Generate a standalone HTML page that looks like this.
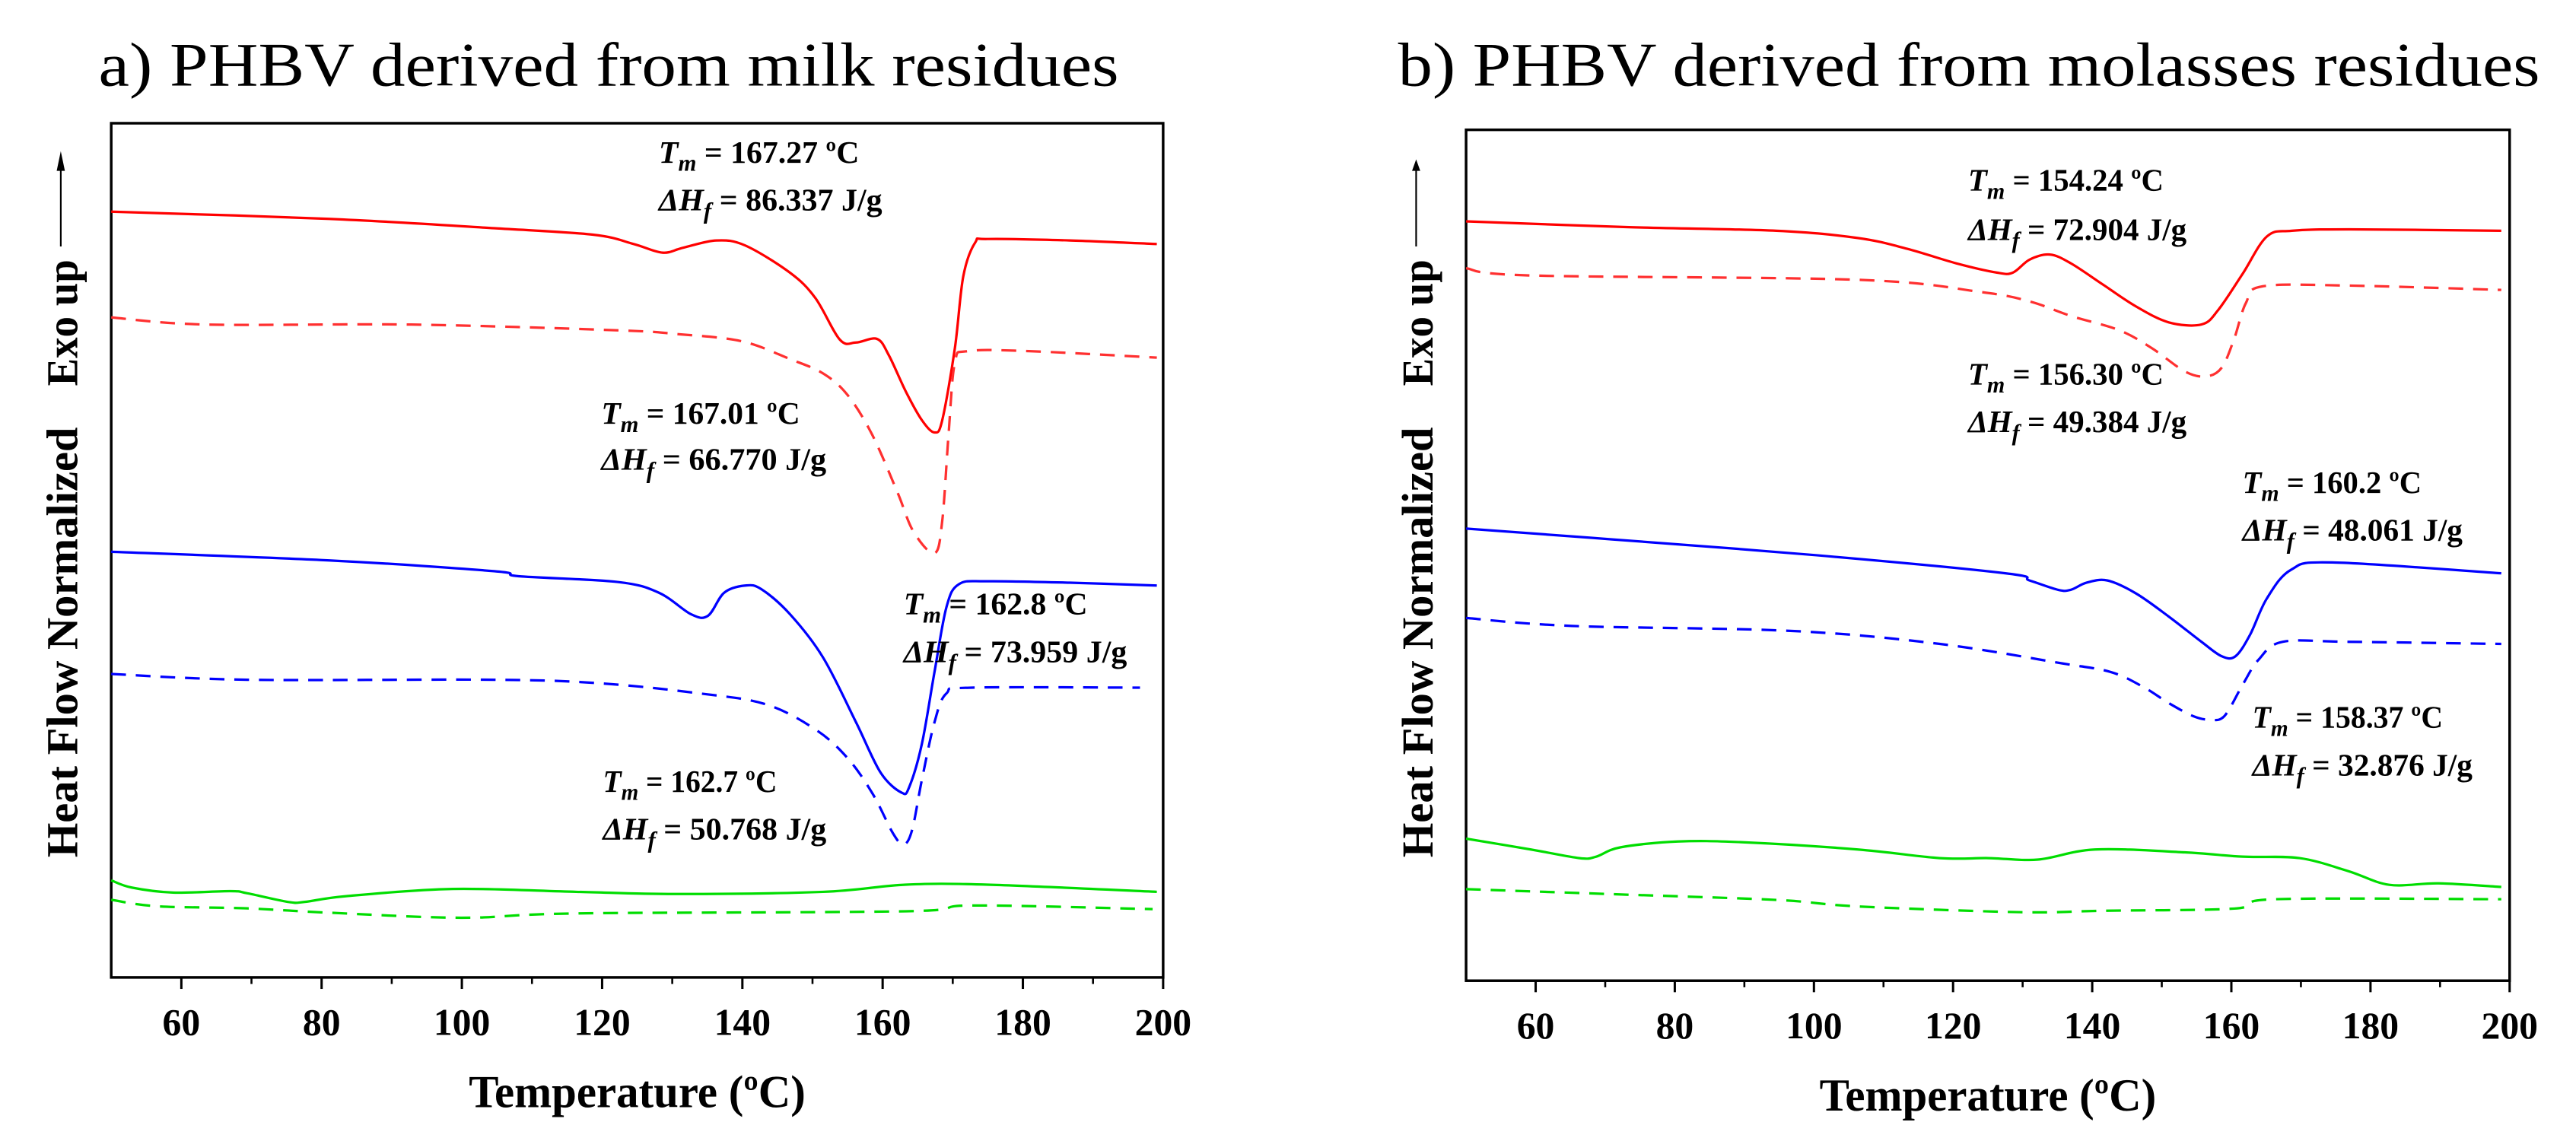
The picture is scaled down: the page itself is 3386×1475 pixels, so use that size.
<!DOCTYPE html>
<html><head><meta charset="utf-8">
<style>
html,body{margin:0;padding:0;background:#fff;}
svg{display:block;}
text{font-family:"Liberation Serif",serif;}
</style></head>
<body>
<svg id="chart" width="3386" height="1475" viewBox="0 0 1568 683" xmlns="http://www.w3.org/2000/svg">
  <rect x="0" y="0" width="1568" height="683" fill="#fff"/>
  <g id="panelA"></g>
  <g id="panelB"></g>
</svg>
<script>
// ---------- DATA: panel a (milk residues) ----------
const xTicks = [60, 80, 100, 120, 140, 160, 180, 200];
const xMinorTicks = [70, 90, 110, 130, 150, 170, 190];

const aRedSolidT = [50,81.1,104.6,118.7,124.5,128.6,131.6,136.3,140.4,146.8,150.4,153.9,156.2,159.2,160.9,163.3,165.6,167.4,168.5,170.3,171.5,173.2,175.0,186.7,199.1];
const aRedSolidV = [1065,1055,1042,1033,1020,1008,1015,1025,1018,980,945,887,883,888,865,815,775,758,775,875,975,1022,1027,1025,1020];
const aRedDashT = [50,63.5,92.8,122.2,130.4,139.8,146.8,151.5,155.0,158.5,162.1,164.4,167.4,168.5,169.4,170.3,172.1,180.9,199.1];
const aRedDashV = [918,908,908,900,895,885,860,840,810,755,675,620,590,635,755,855,871,871,862];
const aBlueSolidT = [50,81.1,104.6,108.1,122.2,128.1,132.7,135.1,137.4,140.4,142.7,146.8,151.5,156.2,159.7,162.7,163.8,165.6,167.4,169.1,170.9,175.0,186.7,199.1];
const aBlueSolidV = [592,580,565,558,550,535,505,503,535,545,540,505,445,355,285,257,265,325,425,515,547,551,549,545];
const aBlueDashT = [50,69.4,104.6,119.8,133.9,143.3,150.4,155.0,158.6,161.5,163.0,164.2,165.6,167.4,169.1,172.7,196.7];
const aBlueDashV = [422,414,414,409,395,380,345,305,255,200,185,205,275,355,395,403,403];
const aGreenSolidT = [50,52.9,58.8,67.0,69.4,75.2,77.6,83.5,98.7,116.3,130.4,151.5,163.3,175.0,199.1];
const aGreenSolidV = [135,125,118,120,117,105,105,113,123,119,116,119,129,129,119];
const aGreenDashT = [50,56.5,69.4,81.1,99.9,116.3,163.3,172.7,198.5];
const aGreenDashV = [108,99,96,90,83,89,92,100,95];

// ---------- DATA: panel b (molasses residues) ----------
const bRedSolidT = [50,73.4,94.6,106.3,113.4,120.4,126.3,128.6,131.0,133.9,136.9,141.6,146.3,151.0,155.7,158.1,161.6,165.1,168.7,176.9,198.8];
const bRedSolidV = [1053,1045,1040,1030,1015,995,982,982,1000,1007,995,965,935,913,910,930,980,1032,1040,1042,1040];
const bRedDashT = [50,59.3,106.3,124.0,131.0,136.9,143.9,148.6,153.3,156.3,158.6,160.4,162.1,164.5,176.8,198.8];
const bRedDashV = [988,978,972,955,942,922,902,877,845,838,850,890,940,963,964,958];
const bBlueSolidT = [50,71.0,100.4,127.5,131.0,135.1,136.9,139.2,142.2,146.3,151.0,155.7,158.6,160.6,162.7,165.1,168.6,174.5,198.8];
const bBlueSolidV = [627,612,590,565,555,542,542,552,555,537,505,470,450,450,480,530,570,580,565];
const bBlueDashT = [50,65.2,96.9,118.1,135.7,142.7,147.4,151.0,154.5,156.9,159.0,161.6,163.9,167.4,176.8,198.8];
const bBlueDashV = [503,492,485,467,440,428,407,385,367,362,367,410,445,470,470,467];
const bGreenSolidT = [50,59.3,66.3,68.7,72.2,80.4,89.8,106.3,118.1,125.1,132.2,140.4,153.3,161.6,169.8,176.8,182.7,189.8,198.8];
const bGreenSolidV = [197,182,170,172,185,193,192,182,170,170,168,182,178,172,170,152,133,135,130];
const bGreenDashT = [50,71.0,94.6,106.3,129.8,141.6,160.4,166.3,198.8];
const bGreenDashV = [127,120,112,103,95,97,100,113,113];

const NS = "http://www.w3.org/2000/svg";
function mk(tag, attrs, parent) {
  const e = document.createElementNS(NS, tag);
  for (const k in attrs) e.setAttribute(k, attrs[k]);
  parent.appendChild(e);
  return e;
}

function smoothPath(pts) {
  let d = 'M' + pts[0][0].toFixed(2) + ',' + pts[0][1].toFixed(2);
  for (let i = 0; i < pts.length - 1; i++) {
    const p0 = pts[Math.max(0, i - 1)], p1 = pts[i], p2 = pts[i + 1], p3 = pts[Math.min(pts.length - 1, i + 2)];
    const c1x = p1[0] + (p2[0] - p0[0]) / 6, c1y = p1[1] + (p2[1] - p0[1]) / 6;
    const c2x = p2[0] - (p3[0] - p1[0]) / 6, c2y = p2[1] - (p3[1] - p1[1]) / 6;
    d += ` C${c1x.toFixed(2)},${c1y.toFixed(2)} ${c2x.toFixed(2)},${c2y.toFixed(2)} ${p2[0].toFixed(2)},${p2[1].toFixed(2)}`;
  }
  return d;
}

function drawPanel(g, cfg) {
  const xs = t => cfg.left + (t - 50) / 150 * (cfg.right - cfg.left);
  const ys = v => cfg.bottom - v / cfg.vmax * (cfg.bottom - cfg.top);

  const title = mk('text', {x: cfg.titleX, y: 52, 'font-size': 38, textLength: cfg.titleLen, lengthAdjust: 'spacingAndGlyphs'}, g);
  title.textContent = cfg.title;
  
  

  const frame = mk('rect', {x: cfg.left, y: cfg.top, width: cfg.right - cfg.left, height: cfg.bottom - cfg.top, fill: 'none', stroke: '#000', 'stroke-width': 1.6}, g);
  
  

  xTicks.forEach(t => {
    const tk = mk('line', {x1: xs(t), x2: xs(t), y1: cfg.bottom, y2: cfg.bottom + 7, stroke: '#000', 'stroke-width': 1.4}, g);
    
    
    const lb = mk('text', {x: xs(t), y: cfg.bottom + 35, 'font-size': 23, 'font-weight': 'bold', 'text-anchor': 'middle'}, g);
    lb.textContent = t;
    
    
  });
  xMinorTicks.forEach(t => {
    const tk = mk('line', {x1: xs(t), x2: xs(t), y1: cfg.bottom, y2: cfg.bottom + 4, stroke: '#000', 'stroke-width': 1.2}, g);
    
    
  });

  const xt = mk('text', {x: (cfg.left + cfg.right) / 2, y: cfg.bottom + 79, 'font-size': 28, 'font-weight': 'bold', 'text-anchor': 'middle', textLength: 205, lengthAdjust: 'spacingAndGlyphs'}, g);
  xt.textContent = 'Temperature (ºC)';
  
  

  const yt = mk('text', {x: 0, y: 0, 'font-size': 27, 'font-weight': 'bold', transform: `translate(${cfg.ylabX},522) rotate(-90)`}, g);
  const s1 = mk('tspan', {x: 0, textLength: 262, lengthAdjust: 'spacingAndGlyphs'}, yt);
  s1.textContent = 'Heat Flow Normalized';
  const s2 = mk('tspan', {x: 287, textLength: 77, lengthAdjust: 'spacingAndGlyphs'}, yt);
  s2.textContent = 'Exo up';
  
  
  const ax = cfg.ylabX - 10;
  const al = mk('line', {x1: ax, x2: ax, y1: 150, y2: 100, stroke: '#000', 'stroke-width': 1}, g);
  
  
  const ah = mk('polygon', {points: `${ax - 2.5},${104} ${ax + 2.5},${104} ${ax},${cfg.arrowTop}`, fill: '#000'}, g);
  
  

  cfg.series.forEach(s => {
    const pts = s.t.map((t, i) => [xs(t), ys(s.v[i])]);
    const p = mk('path', {d: smoothPath(pts), fill: 'none', stroke: s.color, 'stroke-width': 1.5, 'stroke-linejoin': 'round'}, g);
    if (s.dash) p.setAttribute('stroke-dasharray', '9 6');
    
    
  });

  cfg.notes.forEach(n => {
    const t1 = mk('text', {x: n.x, y: n.y1, 'font-size': 19, 'font-weight': 'bold', textLength: n.l1, lengthAdjust: 'spacingAndGlyphs'}, g);
    t1.innerHTML = `<tspan font-style="italic">T</tspan><tspan font-style="italic" font-size="14" dy="5">m</tspan><tspan dy="-5"> = ${n.tm} ºC</tspan>`;
    
    
    const t2 = mk('text', {x: n.x, y: n.y2, 'font-size': 19, 'font-weight': 'bold', textLength: n.l2, lengthAdjust: 'spacingAndGlyphs'}, g);
    t2.innerHTML = `<tspan font-style="italic">ΔH</tspan><tspan font-style="italic" font-size="14" dy="5">f</tspan><tspan dy="-5"> = ${n.hf} J/g</tspan>`;
    
    
  });
}

drawPanel(document.getElementById('panelA'), {
  left: 67.7, right: 708, top: 75, bottom: 595, vmax: 1188,
  title: 'a) PHBV derived from milk residues', titleX: 60, titleLen: 621,
  ylabX: 47, arrowTop: 92,
  series: [
    {t: aRedSolidT, v: aRedSolidV, color: '#ff0000', dash: false, name: 'red-solid-curve'},
    {t: aRedDashT, v: aRedDashV, color: '#ff3030', dash: true, name: 'red-dashed-curve'},
    {t: aBlueSolidT, v: aBlueSolidV, color: '#0000ff', dash: false, name: 'blue-solid-curve'},
    {t: aBlueDashT, v: aBlueDashV, color: '#0000ff', dash: true, name: 'blue-dashed-curve'},
    {t: aGreenSolidT, v: aGreenSolidV, color: '#00dd00', dash: false, name: 'green-solid-curve'},
    {t: aGreenDashT, v: aGreenDashV, color: '#00dd00', dash: true, name: 'green-dashed-curve'}
  ],
  notes: [
    {x: 401, y1: 99, y2: 128, tm: '167.27', hf: '86.337', l1: 122, l2: 136},
    {x: 366, y1: 258, y2: 286, tm: '167.01', hf: '66.770', l1: 121, l2: 137},
    {x: 550, y1: 374, y2: 403, tm: '162.8', hf: '73.959', l1: 112, l2: 136},
    {x: 367, y1: 482, y2: 511, tm: '162.7', hf: '50.768', l1: 106, l2: 136}
  ]
});

drawPanel(document.getElementById('panelB'), {
  left: 892.4, right: 1527.6, top: 79, bottom: 597, vmax: 1180,
  title: 'b) PHBV derived from molasses residues', titleX: 851, titleLen: 695,
  ylabX: 872, arrowTop: 97,
  series: [
    {t: bRedSolidT, v: bRedSolidV, color: '#ff0000', dash: false, name: 'red-solid-curve'},
    {t: bRedDashT, v: bRedDashV, color: '#ff3030', dash: true, name: 'red-dashed-curve'},
    {t: bBlueSolidT, v: bBlueSolidV, color: '#0000ff', dash: false, name: 'blue-solid-curve'},
    {t: bBlueDashT, v: bBlueDashV, color: '#0000ff', dash: true, name: 'blue-dashed-curve'},
    {t: bGreenSolidT, v: bGreenSolidV, color: '#00dd00', dash: false, name: 'green-solid-curve'},
    {t: bGreenDashT, v: bGreenDashV, color: '#00dd00', dash: true, name: 'green-dashed-curve'}
  ],
  notes: [
    {x: 1198, y1: 116, y2: 146, tm: '154.24', hf: '72.904', l1: 119, l2: 133},
    {x: 1198, y1: 234, y2: 263, tm: '156.30', hf: '49.384', l1: 119, l2: 133},
    {x: 1365, y1: 300, y2: 329, tm: '160.2', hf: '48.061', l1: 109, l2: 134},
    {x: 1371, y1: 443, y2: 472, tm: '158.37', hf: '32.876', l1: 116, l2: 134}
  ]
});
</script>
</body></html>
